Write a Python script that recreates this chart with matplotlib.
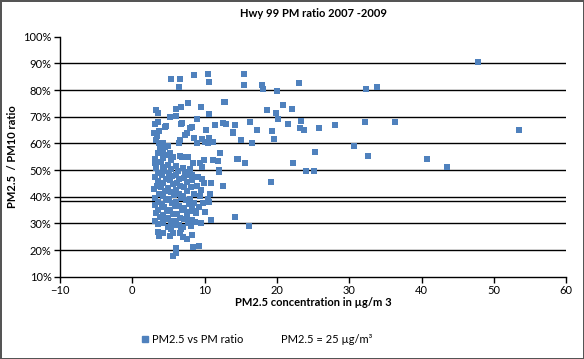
import numpy as np
import matplotlib.pyplot as plt
from matplotlib.lines import Line2D

plt.rcParams['font.family'] = ['Lato', 'DejaVu Sans']

# PM2.5 concentration (ug/m3) and PM2.5/PM10 ratio (%)
pm25 = [
    # sparse / outer points
    47.8, 32.3, 33.8, 28.0, 32.2, 36.3, 53.4, 30.6, 32.6, 40.7, 43.5,
    15.4, 15.5, 17.9, 18.1, 20.0, 23.0, 12.8, 18.6, 20.8, 22.1, 19.9, 20.1,
    23.3, 13.0, 14.2, 16.3, 21.5, 23.2, 23.7, 25.8, 13.9, 17.2, 19.3, 19.6,
    15.0, 16.6, 25.3, 14.6, 15.6, 22.2, 24.0, 25.1, 12.6, 19.2, 14.2, 16.1,
    # upper part of the cluster
    5.3, 6.6, 6.4, 8.6, 10.5, 10.6, 3.3, 3.5, 5.2, 6.1, 6.1, 6.7, 7.7, 9.5,
    10.6, 12.7, 8.9, 3.1, 3.6, 3.7, 4.5, 4.7, 6.7, 6.9, 8.0, 8.2, 7.5, 7.3,
    10.2, 11.5, 12.5, 13.9, 3.0, 3.4, 3.3, 3.7, 4.3, 4.5, 3.9, 5.0, 6.6,
    6.4, 8.6, 9.0, 9.7, 10.0, 10.6, 10.5, 11.2, 3.5, 4.3, 5.2, 4.9, 12.1,
    3.2, 3.2, 4.3, 5.4, 5.6, 6.6, 6.9, 7.7, 8.4, 9.3, 9.9, 9.6, 11.2, 11.9,
    12.0, 14.5,
    # lower part of the cluster
    10.9, 9.5, 10.1, 9.2, 10.6, 10.5, 10.7, 10.9, 9.9, 9.6, 9.1, 8.3, 7.5,
    12.0, 8.4, 9.2, 6.1, 6.0, 5.7, 8.2, 7.5, 7.0, 6.6, 3.6, 3.7, 4.3, 5.2,
    5.6, 8.1, 8.3, 8.7, 7.5, 7.8,
    # dense core
    3.1, 3.3, 3.5, 3.2, 3.6, 3.4, 3.0, 3.7, 3.2, 3.5, 3.1, 3.6, 3.3, 3.8,
    3.2, 3.5, 4.0, 4.2, 4.4, 4.1, 4.6, 4.3, 4.0, 4.5, 4.2, 4.7, 4.1, 4.4,
    4.8, 4.2, 4.6, 4.3, 4.9, 5.0, 5.3, 5.1, 5.5, 5.2, 5.6, 5.0, 5.4, 5.8,
    5.1, 5.5, 5.9, 5.2, 5.6, 5.0, 5.4, 5.8, 5.3, 6.0, 6.3, 6.1, 6.5, 6.2,
    6.6, 6.0, 6.4, 6.8, 6.1, 6.5, 6.9, 6.2, 6.6, 6.0, 6.4, 6.8, 7.0, 7.3,
    7.1, 7.5, 7.2, 7.6, 7.0, 7.4, 7.8, 7.1, 7.5, 7.2, 7.7, 7.0, 8.0, 8.3,
    8.1, 8.5, 8.0, 8.6, 8.2, 8.8, 8.4, 9.0, 9.3, 9.5, 9.8,
]
ratio = [
    90.4, 80.5, 81.3, 66.8, 67.9, 67.9, 64.9, 58.9, 55.2, 54.0, 51.3,
    85.9, 81.8, 81.8, 80.3, 79.8, 82.5, 75.4, 72.4, 74.3, 72.8, 71.3, 69.0,
    68.3, 67.2, 66.8, 67.9, 67.3, 65.6, 64.9, 65.6, 64.1, 65.2, 64.6, 61.5,
    61.3, 60.0, 56.6, 54.1, 52.5, 52.5, 49.5, 49.5, 44.0, 45.4, 32.3, 29.2,
    84.0, 84.0, 81.3, 85.5, 86.0, 83.0, 72.5, 71.3, 70.0, 70.3, 72.8, 73.8,
    75.0, 73.8, 70.9, 75.5, 69.3, 67.3, 68.1, 64.8, 66.0, 66.5, 67.3, 67.8,
    65.6, 66.3, 64.0, 63.2, 65.0, 66.8, 67.5, 64.0, 63.8, 62.8, 61.3, 60.0,
    60.3, 58.8, 58.8, 59.0, 61.3, 60.3, 62.0, 60.3, 61.5, 60.5, 61.9, 60.0,
    60.5, 56.5, 56.9, 56.5, 55.6, 56.3, 54.0, 53.1, 54.4, 53.8, 55.0, 55.3,
    55.0, 54.8, 52.8, 52.8, 53.8, 51.3, 53.8, 53.5, 50.0, 54.3,
    31.3, 30.3, 34.4, 36.3, 38.0, 39.0, 41.0, 45.0, 45.2, 46.8, 47.3, 48.0,
    48.0, 49.4, 21.0, 21.6, 20.7, 19.0, 17.8, 25.5, 24.0, 25.0, 26.3, 26.9,
    25.3, 26.3, 25.3, 26.5, 29.0, 31.2, 30.7, 32.5, 30.0,
    52.5, 50.8, 49.0, 47.5, 46.0, 44.2, 42.8, 41.0, 39.5, 38.2, 36.8, 35.2,
    33.9, 32.5, 31.0, 29.8, 53.0, 51.2, 49.5, 48.0, 46.5, 45.0, 43.5, 42.0,
    40.3, 38.8, 37.4, 36.0, 34.6, 33.0, 31.5, 30.2, 28.5, 52.0, 50.5, 49.0,
    47.6, 46.2, 44.8, 43.3, 41.8, 40.5, 39.2, 37.7, 36.5, 35.0, 33.6, 32.2,
    30.8, 29.5, 28.0, 51.5, 49.8, 48.3, 46.8, 45.3, 43.9, 42.4, 41.0, 39.6,
    38.0, 36.6, 35.1, 33.7, 32.2, 30.8, 29.4, 27.9, 50.8, 49.2, 47.0, 45.5,
    43.8, 42.0, 40.4, 38.9, 37.3, 35.8, 34.2, 31.6, 30.2, 28.6, 50.5, 46.2,
    43.6, 41.2, 39.0, 37.6, 35.4, 33.8, 34.8, 44.0, 40.2, 42.5, 37.5,
]
threshold_ratio = 38.4  # the "PM2.5 = 25 ug/m3" series line

x = np.array(pm25)
y = np.array(ratio) / 100

fig = plt.figure(figsize=(5.84, 3.59), dpi=100)
fig.patch.set_edgecolor('#555555')
fig.patch.set_linewidth(2)
ax = fig.add_axes([0.1026, 0.2292, 0.867, 0.6686])

for g in np.arange(0.2, 0.95, 0.1):
    ax.axhline(g, color='black', lw=1, zorder=1)
ax.axhline(threshold_ratio / 100, color='black', lw=1, zorder=1)

ax.scatter(x, y, marker='s', s=14, color='#4F81BD', linewidths=0, zorder=3)

ax.set_xlim(-10, 60)
ax.set_ylim(0.1, 1.0)
ax.set_xticks(range(-10, 61, 10))
ax.set_yticks(np.arange(0.1, 1.01, 0.1))
ax.set_yticklabels([f'{v}%' for v in range(10, 101, 10)])
for s in ['top', 'right']:
    ax.spines[s].set_visible(False)
ax.spines['left'].set_linewidth(1)
ax.spines['bottom'].set_linewidth(1)
ax.tick_params(labelsize=8, length=4, width=1, pad=2)

ax.set_title('Hwy 99 PM ratio 2007 -2009', fontsize=8, fontweight='bold', pad=14)
ax.set_xlabel('PM2.5 concentration in µg/m 3', fontsize=8, fontweight='bold', labelpad=1)
ax.set_ylabel('PM2.5  / PM10 ratio', fontsize=8, fontweight='bold', labelpad=4)

handles = [
    Line2D([], [], marker='s', ls='', color='#4F81BD', markersize=4),
    Line2D([], [], ls='', marker=''),
]
fig.legend(handles, ['PM2.5 vs PM ratio', 'PM2.5 = 25 µg/m³'], loc='center',
           bbox_to_anchor=(0.44, 0.055), ncol=2, frameon=False, fontsize=8,
           handlelength=0.6, handletextpad=0.3, columnspacing=2.5)

fig.savefig('out.png', dpi=100)
